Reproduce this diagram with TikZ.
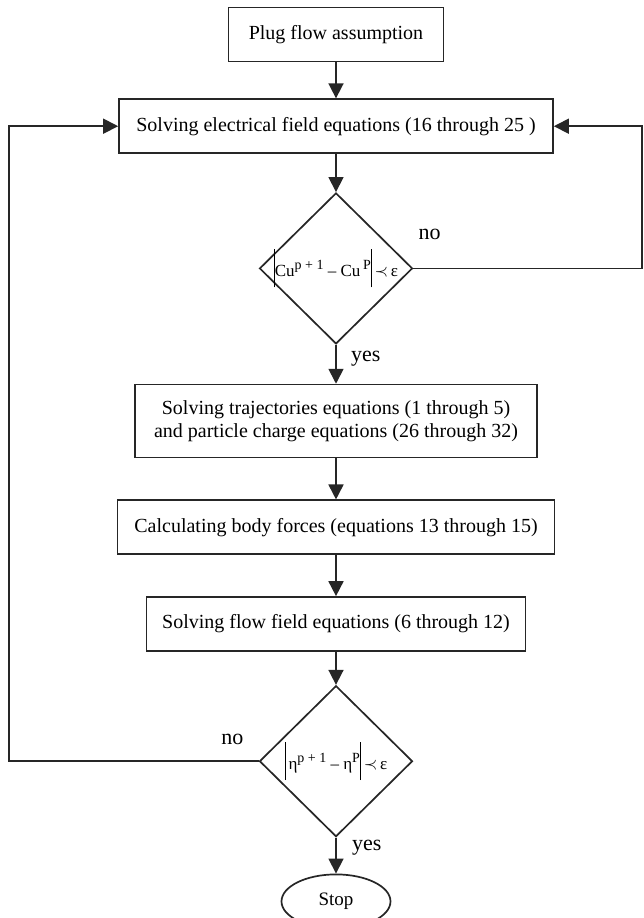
\documentclass[tikz,border=0pt]{standalone}
\usepackage{amsmath}
\usepackage{fontspec}
\setmainfont{Liberation Serif}
\usepackage{tikz}
\usetikzlibrary{arrows.meta,positioning,shapes.geometric}
\tikzset{
  box/.style  ={draw=black!85, line width=1.7pt, align=center, minimum height=54pt, inner sep=0pt, font=\fontsize{20}{23}\selectfont},
  cond/.style ={draw=black!85, line width=1.7pt, diamond, minimum width=153pt, minimum height=151pt, inner sep=-12pt, font=\fontsize{17}{20}\selectfont},
  term/.style ={draw=black!85, line width=1.7pt, ellipse, minimum width=109pt, minimum height=54pt, inner sep=0pt, font=\fontsize{19}{20}\selectfont},
  lbl/.style  ={inner sep=0pt, font=\fontsize{22}{24}\selectfont},
  arr/.style  ={-{Triangle[length=15pt, width=15pt]}, line width=1.7pt, draw=black!85},
}
\newcommand{\absbar}{\rule[-11pt]{0.9pt}{38pt}}
\newcommand{\upidx}[1]{\raisebox{7pt}{\fontsize{14}{14}\selectfont #1}}

\begin{document}
\begin{tikzpicture}[x=1pt, y=1pt]
  \useasboundingbox (0,0) rectangle (643,-918);
  % main column
  \node[box, minimum width=215pt] (plug) at (336,-34.5) {Plug flow assumption};
  \node[box, minimum width=434pt, below=36pt of plug] (efield) {Solving electrical field equations (16 through 25 )};
  \node[cond, below=38pt of efield] (chk1) {\absbar Cu\upidx{p + 1} -- Cu\,\upidx{P}\absbar\,$\prec$\,ε};
  \node[box, minimum width=402pt, minimum height=73pt, below=39pt of chk1] (traj)
    {Solving trajectories equations (1 through 5)\\and particle charge equations (26 through 32)};
  \node[box, minimum width=437pt, below=41pt of traj] (force) {Calculating body forces (equations 13 through 15)};
  \node[box, minimum width=379pt, below=41pt of force] (flow) {Solving flow field equations (6 through 12)};
  \node[cond, below=33pt of flow] (chk2) {\absbar\,η\upidx{p + 1} -- η\upidx{P}\absbar\,$\prec$\,ε};
  \node[term, below=36pt of chk2] (stop) {Stop};
  \draw[arr] (plug) -- (efield);
  \draw[arr] (efield) -- (chk1);
  \draw[arr] (chk1) -- (traj);
  \draw[arr] (traj) -- (force);
  \draw[arr] (force) -- (flow);
  \draw[arr] (flow) -- (chk2);
  \draw[arr] (chk2) -- (stop);
  % loops back
  \coordinate (rgt) at (642,0);
  \coordinate (lft) at (9,0);
  \draw[arr] (chk1.east) -- (chk1.east -| rgt) -- (efield.east -| rgt) -- (efield.east);
  \draw[arr] (chk2.west) -- (chk2.west -| lft) -- (efield.west -| lft) -- (efield.west);
  % labels
  \node[lbl, above right=28pt and 5pt of chk1.east] (no1) {no};
  \node[lbl, below right=6pt and 15pt of chk1.south] (yes1) {yes};
  \node[lbl, above left=16pt and 15pt of chk2.west] (no2) {no};
  \node[lbl, below right=2pt and 16pt of chk2.south] (yes2) {yes};
\end{tikzpicture}
\end{document}
